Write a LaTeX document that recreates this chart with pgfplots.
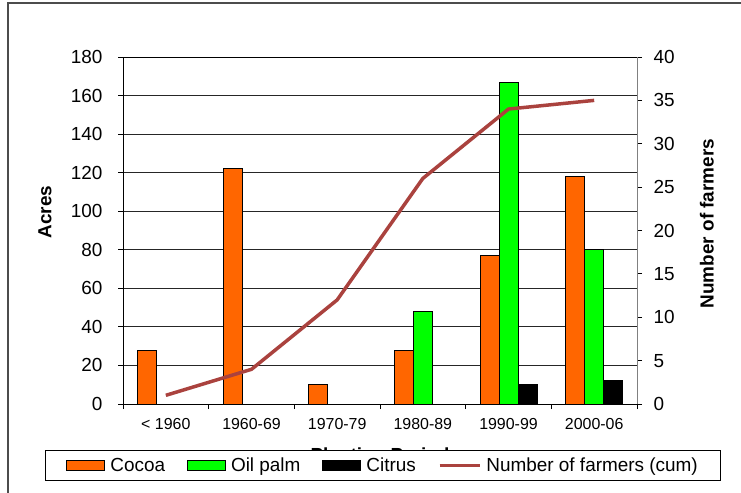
\documentclass[border=0pt]{standalone}
\usepackage{fontspec}
\setmainfont{Liberation Sans}
\usepackage{pgfplots}
\pgfplotsset{compat=1.18}

\definecolor{cocoa}{RGB}{255,102,0}
\definecolor{oilpalm}{RGB}{0,255,0}
\definecolor{farmers}{RGB}{170,66,62}

\pgfplotstableread{
x cocoa
0 28
1 122
2 10
3 28
4 77
5 118
}\cocoatab
\pgfplotstableread{
x oilpalm
3 48
4 167
5 80
}\oilpalmtab
\pgfplotstableread{
x citrus
4 10
5 12
}\citrustab
\pgfplotstableread{
x farmers
0 1
1 4
2 12
3 26
4 34
5 35
}\farmerstab

\pgfplotsset{
  common/.style={
    at={(123bp,89bp)}, anchor=south west,
    scale only axis, width=514bp, height=347bp,
    xmin=-0.5, xmax=5.5,
    /pgf/number format/assume math mode=true,
    tick align=outside, major tick length=5bp,
    tick style={black, line width=0.8bp},
  },
  barleg/.style={legend image code/.code={%
    \draw[##1, line width=1bp] (0bp,-5bp) rectangle (38bp,5bp);}},
  lineleg/.style={legend image code/.code={%
    \draw[##1] (0bp,0bp) -- (40bp,0bp);}},
}

\begin{document}
\begin{tikzpicture}
\path[use as bounding box] (0,0) rectangle (741bp,493bp);
% page frame
\draw[line width=1.2bp, black!70] (8bp,-5bp) -- (8bp,490bp) -- (760bp,490bp);

% acres by planting period
\begin{axis}[
  common,
  ymin=0, ymax=180, ytick={0,20,...,180},
  ytick pos=left,
  xtick={-0.5,0.5,...,5.5},
  x tick label as interval,
  xtick pos=bottom,
  xticklabels={{< 1960},{1960-69},{1970-79},{1980-89},{1990-99},{2000-06}},
  xticklabel style={font=\fontsize{16}{18}\selectfont, yshift=-6bp},
  yticklabel style={font=\fontsize{19}{22}\selectfont, xshift=-12bp},
  ymajorgrids, grid style={black!85, line width=0.8bp},
  axis line style={black, line width=0.9bp},
  ybar=0pt, bar width=19bp,
  ylabel={\textbf{Acres}},
  ylabel style={font=\fontsize{19}{22}\selectfont, at={(axis description cs:-0.152,0.553)}, anchor=center},
  xlabel={\textbf{Planting Period}},
  xlabel style={font=\fontsize{19}{22}\selectfont, at={(axis description cs:0.5,-0.153)}, anchor=center},
]
\addplot[fill=cocoa, draw=black, line width=1bp] table[x=x, y=cocoa] {\cocoatab};
\addplot[fill=oilpalm, draw=black, line width=1bp] table[x=x, y=oilpalm] {\oilpalmtab};
\addplot[fill=black, draw=black, line width=1bp] table[x=x, y=citrus] {\citrustab};
\end{axis}

% cumulative number of farmers
\begin{axis}[
  common,
  ymin=0, ymax=40, ytick={0,5,...,40},
  axis y line*=right, axis x line=none,
  y axis line style={black!50, line width=1bp},
  yticklabel style={font=\fontsize{19}{22}\selectfont, xshift=8bp},
  ylabel={\textbf{Number of farmers}},
  ylabel style={font=\fontsize{19}{22}\selectfont, at={(axis description cs:1.136,0.52)}, anchor=center},
  legend columns=4,
  legend style={at={(axis description cs:0.506,-0.177)}, anchor=center,
    draw=black, line width=0.8bp, fill=white,
    font=\fontsize{19}{22}\selectfont,
    inner xsep=21bp, inner ysep=5.5bp,
    /tikz/every odd column/.append style={column sep=3bp},
    /tikz/every even column/.append style={column sep=20bp}},
]
\addlegendimage{barleg, fill=cocoa, draw=black}
\addlegendentry{Cocoa}
\addlegendimage{barleg, fill=oilpalm, draw=black}
\addlegendentry{Oil palm}
\addlegendimage{barleg, fill=black, draw=black}
\addlegendentry{Citrus}
\addplot[farmers, line width=3.5bp, mark=none, lineleg]
  table[x=x, y=farmers] {\farmerstab};
\addlegendentry{Number of farmers (cum)}
\end{axis}
\end{tikzpicture}
\end{document}
